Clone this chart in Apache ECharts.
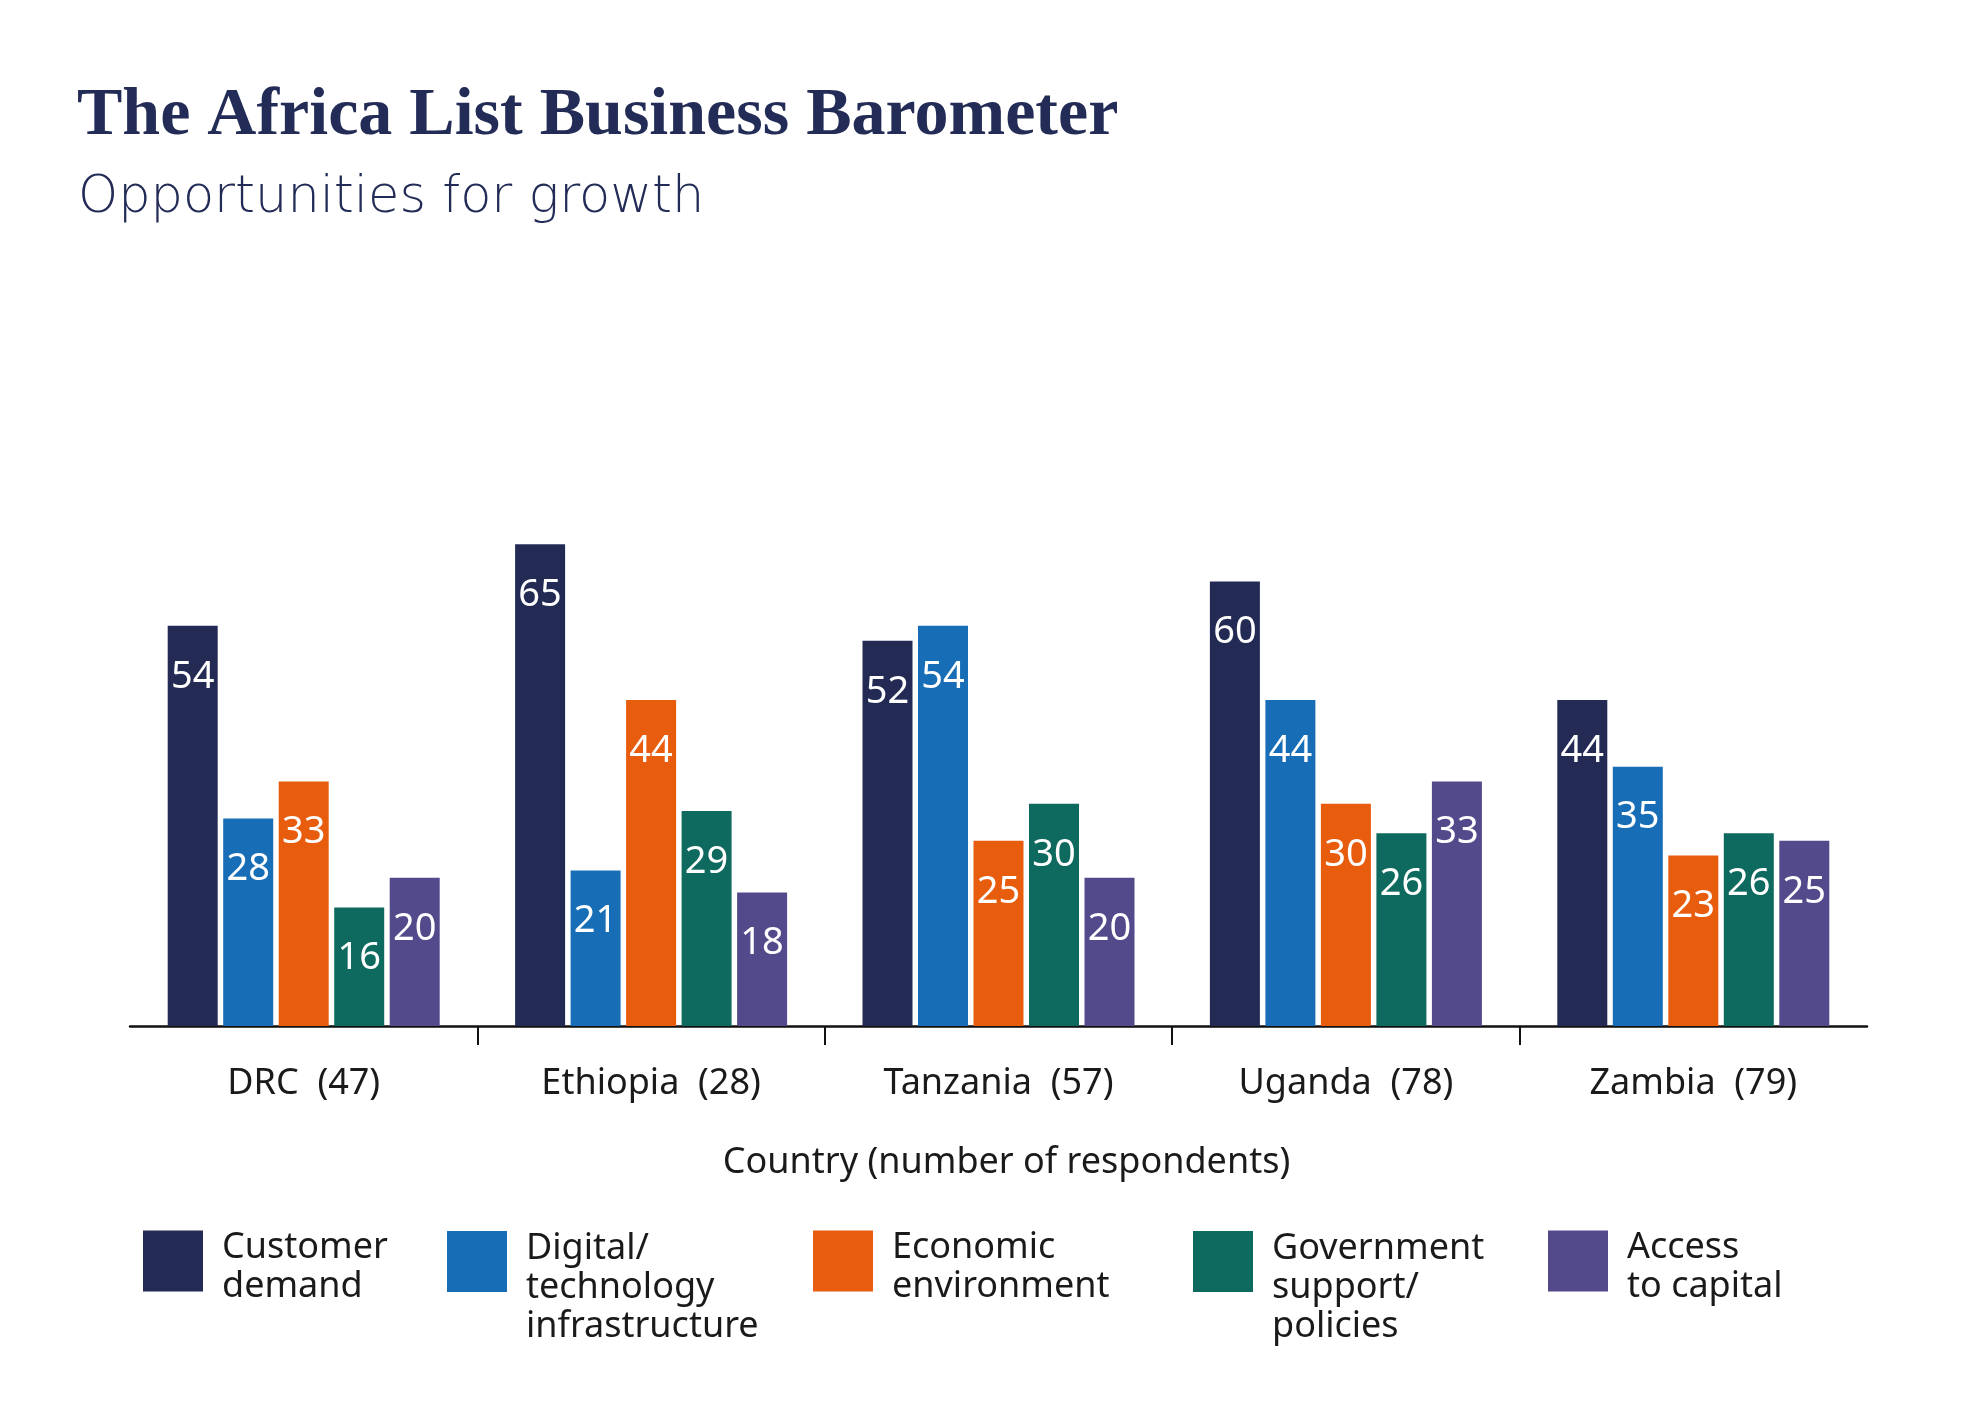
<!DOCTYPE html>
<html>
<head>
<meta charset="utf-8">
<script src="https://cdn.jsdelivr.net/npm/echarts@6/dist/echarts.min.js"></script>
<style>
  html, body { margin: 0; padding: 0; background: #ffffff; }
  #chart { width: 1985px; height: 1418px; }
</style>
</head>
<body>
<div id="chart"></div>
<script>
const categories = ['DRC  (47)', 'Ethiopia  (28)', 'Tanzania  (57)', 'Uganda  (78)', 'Zambia  (79)'];
const seriesNames = ['Customer demand', 'Digital/ technology infrastructure', 'Economic environment', 'Government support/ policies', 'Access to capital'];
const legendLines = [
  ['Customer', 'demand'],
  ['Digital/', 'technology', 'infrastructure'],
  ['Economic', 'environment'],
  ['Government', 'support/', 'policies'],
  ['Access', 'to capital']
];
const customerDemand = [54, 65, 52, 60, 44];
const digitalInfra = [28, 21, 54, 44, 35];
const economicEnv = [33, 44, 25, 30, 23];
const governmentSupport = [16, 29, 30, 26, 26];
const accessCapital = [20, 18, 20, 33, 25];
const seriesValues = [customerDemand, digitalInfra, economicEnv, governmentSupport, accessCapital];
const colors = ['#232B55', '#186EB6', '#E85D0D', '#0E6A5E', '#534A8C'];
const boundaryTicks = [1, 2, 3, 4];

const sansFont = 'Noto Sans';
const legendLefts = [143, 447, 813, 1193, 1548];

const series = seriesNames.map((name, i) => ({
  name: name,
  type: 'bar',
  xAxisIndex: 0,
  yAxisIndex: 0,
  barWidth: 50,
  barGap: '11%',
  data: seriesValues[i],
  itemStyle: { color: colors[i] },
  label: {
    show: true,
    position: 'insideTop',
    distance: 31,
    color: '#ffffff',
    fontFamily: sansFont,
    fontSize: 38,
    lineHeight: 40
  }
}));

const legends = seriesNames.map((name, i) => {
  const lines = legendLines[i];
  const threeLine = lines.length === 3;
  return {
    data: [name],
    left: legendLefts[i],
    top: threeLine ? 1177 : 1216,
    padding: 0,
    orient: 'vertical',
    icon: 'rect',
    itemWidth: 60,
    itemHeight: 61,
    selectedMode: false,
    formatter: function () {
      return (threeLine ? '{b| }' : '{s| }') + '\n' + lines.map(l => '{t|' + l + '}').join('\n');
    },
    textStyle: {
      fontFamily: sansFont,
      fontSize: 36,
      lineHeight: 39,
      color: '#1a1a1a',
      padding: [0, 0, 0, 14],
      rich: {
        s: { fontSize: 10, lineHeight: 12 },
        b: { fontSize: 10, lineHeight: 52 },
        t: { fontFamily: sansFont, fontSize: 36, lineHeight: 39, color: '#1a1a1a' }
      }
    }
  };
});

const chart = echarts.init(document.getElementById('chart'), null, { renderer: 'canvas' });
chart.setOption({
  backgroundColor: '#ffffff',
  animation: false,
  title: [
    {
      text: 'The Africa List Business Barometer',
      left: 72,
      top: 77,
      textStyle: { fontFamily: 'Liberation Serif', fontWeight: 'bold', fontSize: 68, color: '#232C56' }
    },
    {
      text: 'Opportunities for growth',
      left: 73,
      top: 168,
      textStyle: { fontFamily: 'DejaVu Sans', fontWeight: 200, fontSize: 51, color: '#232C56' }
    }
  ],
  legend: legends,
  grid: { left: 130, right: 118, top: 285, bottom: 392, containLabel: false },
  xAxis: [
    {
      type: 'category',
      data: categories,
      position: 'bottom',
      name: 'Country (number of respondents)',
      nameLocation: 'middle',
      nameGap: 117,
      nameTextStyle: { fontFamily: sansFont, fontSize: 36, color: '#1a1a1a', lineHeight: 40, padding: [0, 0, 0, 16] },
      axisLine: { show: true, lineStyle: { color: '#111111', width: 2.5 } },
      axisTick: { show: false },
      axisLabel: { margin: 38, fontFamily: sansFont, fontSize: 36, lineHeight: 40, color: '#1a1a1a' },
      splitLine: { show: false }
    },
    {
      type: 'value',
      position: 'bottom',
      min: 0,
      max: 5,
      axisLine: { show: false },
      axisTick: { show: true, customValues: boundaryTicks, length: 19, lineStyle: { color: '#111111', width: 2 } },
      axisLabel: { show: false },
      splitLine: { show: false }
    }
  ],
  yAxis: {
    type: 'value',
    min: 0,
    max: 100,
    show: false,
    splitLine: { show: false }
  },
  series: series
});
</script>
</body>
</html>
